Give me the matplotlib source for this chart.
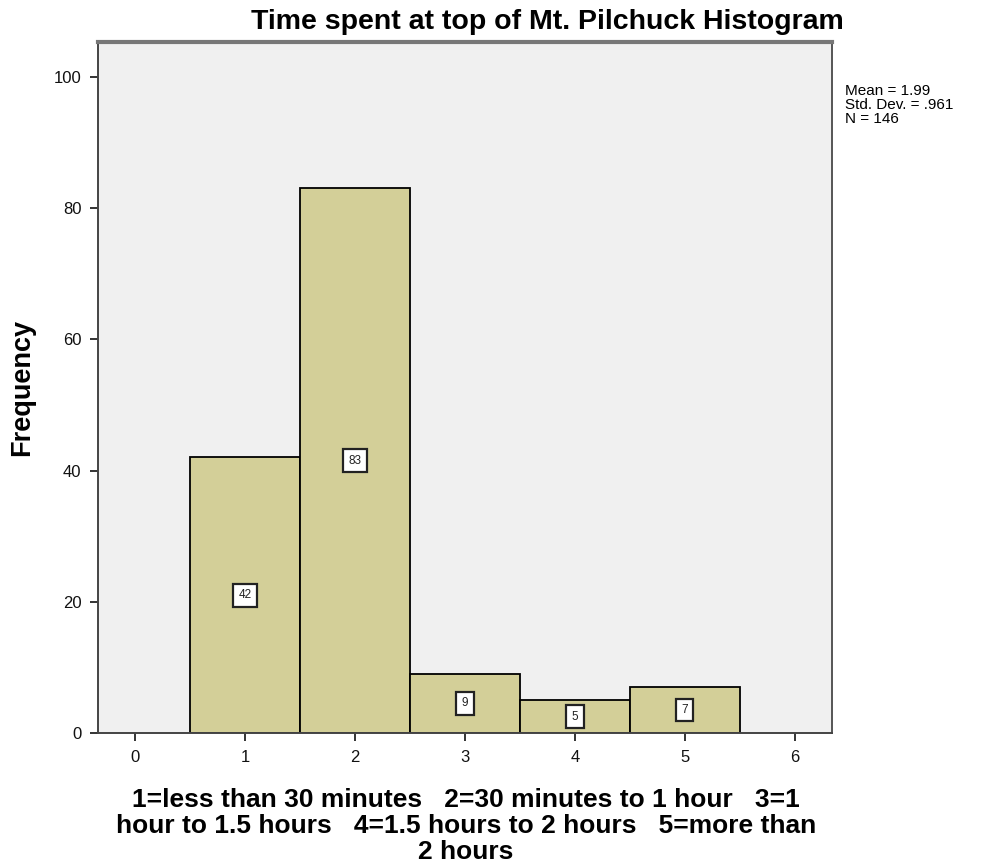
import matplotlib
matplotlib.use("Agg")
import matplotlib.pyplot as plt

plt.rcParams['font.family'] = ['Liberation Sans', 'DejaVu Sans']

categories = [1, 2, 3, 4, 5]
frequencies = [42, 83, 9, 5, 7]
xticks = [0, 1, 2, 3, 4, 5, 6]
yticks = [0, 20, 40, 60, 80, 100]
title = "Time spent at top of Mt. Pilchuck Histogram"
xlabel = ("1=less than 30 minutes   2=30 minutes to 1 hour   3=1\n"
          "hour to 1.5 hours   4=1.5 hours to 2 hours   5=more than\n"
          "2 hours")
stats = "Mean = 1.99\nStd. Dev. = .961\nN = 146"

fig = plt.figure(figsize=(9.85, 8.65), dpi=100)
ax = fig.add_axes([98/985, 1-733/865, (832-98)/985, (733-42)/865])
ax.set_facecolor('#F0F0F0')

ax.bar(categories, frequencies, width=1.0, color='#D3CF98', edgecolor='black', linewidth=1.3)
for c, f in zip(categories, frequencies):
    ax.text(c, f/2, str(f), ha='center', va='center', fontsize=8.5, color='#222222',
            bbox=dict(boxstyle='square,pad=0.45', fc='white', ec='#222222', lw=1.6))

ax.set_xlim(-0.34, 6.34)
ax.set_ylim(0, 105.3)
ax.set_xticks(xticks)
ax.set_yticks(yticks)
ax.tick_params(axis='both', direction='out', length=6, width=1.4, labelsize=12,
               colors='#333333', labelcolor='#111111', pad=6)
for s in ax.spines.values():
    s.set_color('#444444')
    s.set_linewidth(1.4)
ax.spines['top'].set_linewidth(3)
ax.spines['top'].set_color('#777777')
ax.spines['right'].set_color('#555555')

ax.set_ylabel('Frequency', fontsize=19.5, fontweight='bold')
ax.yaxis.set_label_coords(-(98-35)/(832-98), 0.5)
fig.text(466/985, 1-826/865, xlabel, ha='center', va='center', fontsize=19,
         fontweight='bold', linespacing=1.08)
fig.text(547/985, 1-22/865, title, ha='center', va='center', fontsize=20.5, fontweight='bold')
fig.text(845/985, 1-84/865, stats, ha='left', va='top', fontsize=11, linespacing=1.02)

fig.savefig('out.png', dpi=100, facecolor='white')
